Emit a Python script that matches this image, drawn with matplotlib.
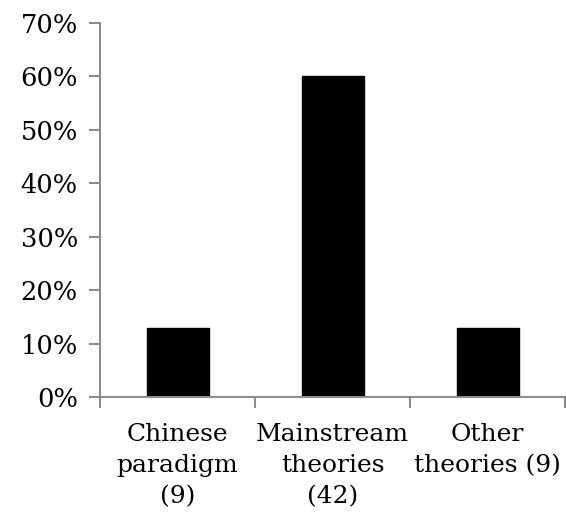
import numpy as np
import matplotlib.pyplot as plt
from matplotlib.ticker import FuncFormatter

# Data (share of papers, %)
categories = ['Chinese\nparadigm\n(9)', 'Mainstream\ntheories\n(42)', 'Other\ntheories (9)']
shares = [12.9, 60.0, 12.9]

plt.rcParams['font.family'] = ['DejaVu Serif']

fig = plt.figure(figsize=(5.66, 5.19), dpi=100)
ax = fig.add_axes([100 / 566, 122 / 519, 465 / 566, 374 / 519])

x = np.arange(len(categories))
ax.bar(x, shares, width=0.4, color='black', edgecolor='black')

axis_grey = '#8c8c8c'
ax.set_xlim(-0.5, 2.5)
ax.set_ylim(0, 70)
ax.set_yticks(np.arange(0, 71, 10))
ax.yaxis.set_major_formatter(FuncFormatter(lambda v, p: f'{v:.0f}%'))

# category boundaries as ticks, labels centred under bars
ax.set_xticks(np.arange(-0.5, 3, 1))
ax.set_xticklabels([])
ax.set_xticks(x, minor=True)
ax.set_xticklabels(categories, minor=True, linespacing=1.45)
ax.tick_params(axis='x', which='minor', length=0, pad=19, labelsize=18)
ax.tick_params(axis='x', which='major', length=8, width=1.5, color=axis_grey)
ax.tick_params(axis='y', length=8, width=1.5, color=axis_grey, labelsize=18.5, pad=8)

for side in ['top', 'right']:
    ax.spines[side].set_visible(False)
for side in ['left', 'bottom']:
    ax.spines[side].set_color(axis_grey)
    ax.spines[side].set_linewidth(1.5)

fig.savefig('out.png', dpi=100)
